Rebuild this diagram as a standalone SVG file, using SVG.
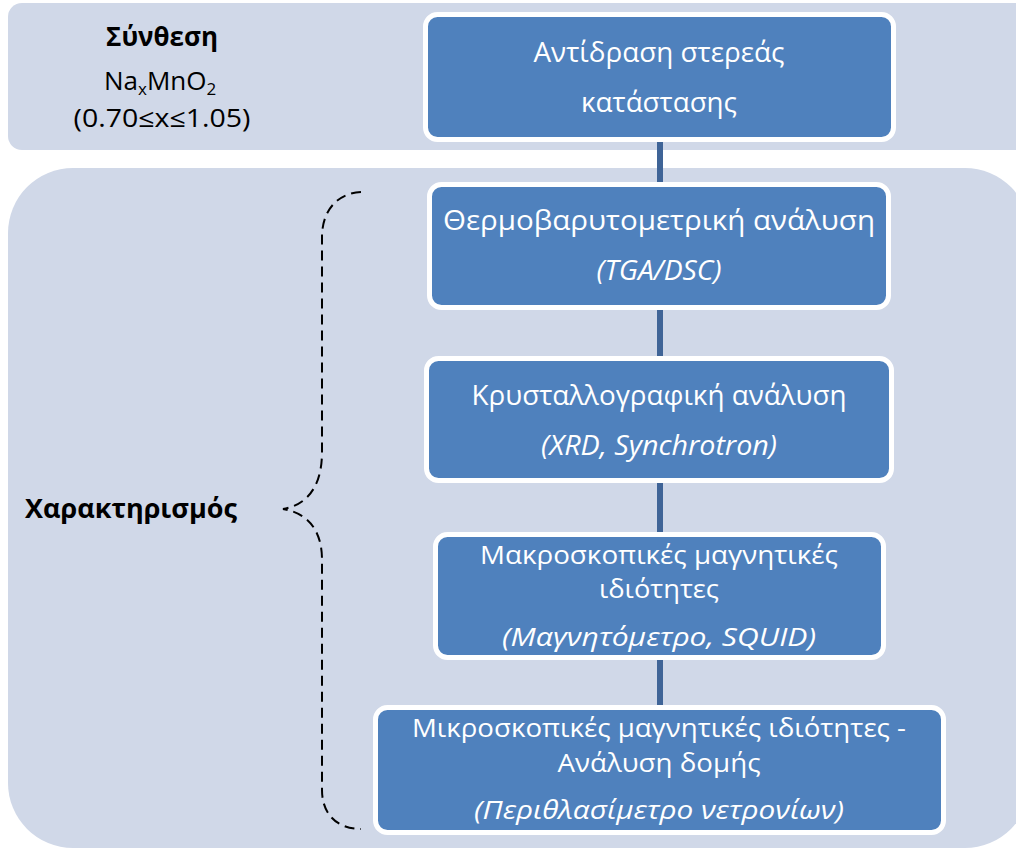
<svg xmlns="http://www.w3.org/2000/svg" width="1016" height="850" viewBox="0 0 1016 850">
  <style>
    .panel { fill: #D0D8E8; }
    .box { fill: #4F81BD; stroke: #FFFFFF; stroke-width: 5; }
    .link { stroke: #3F6497; stroke-width: 6; fill: none; }
    .brace { fill: none; stroke: #000000; stroke-width: 2; stroke-dasharray: 10 6; }
    .t { font-family: "Open Sans", "Noto Sans", "DejaVu Sans", sans-serif; fill: #FFFFFF; font-size: 28px; text-anchor: middle; }
    .s { font-size: 25px; }
    .it { font-style: italic; }
    .lbl { font-family: "Open Sans", "Noto Sans", "DejaVu Sans", sans-serif; fill: #000000; font-size: 27px; text-anchor: middle; }
    .b { font-weight: bold; }
  </style>

  <!-- background panels -->
  <g id="panel-synthesis">
    <rect class="panel" x="8" y="3" width="1022" height="147" rx="14"/>
  </g>
  <g id="panel-characterisation">
    <rect class="panel" x="8" y="168" width="1022" height="680" rx="65"/>
  </g>

  <!-- connectors between the process steps -->
  <g id="connectors">
    <line class="link" x1="660" y1="139" x2="660" y2="186"/>
    <line class="link" x1="660" y1="308" x2="660" y2="360"/>
    <line class="link" x1="660" y1="481" x2="660" y2="536"/>
    <line class="link" x1="660" y1="658" x2="660" y2="709"/>
    <path class="brace" d="M361,192 C338,193 322,210 322,237 L322,452 C322,480 312,504 283,509 C312,514 322,535 322,560 L322,790 C322,815 338,829 361,829"/>
  </g>

  <!-- left-hand labels -->
  <g id="label-synthesis">
    <text class="lbl b" x="162" y="46" textLength="112" lengthAdjust="spacingAndGlyphs">Σύνθεση</text>
    <text class="lbl" x="104" y="90" style="font-size:26px;text-anchor:start">Na<tspan font-size="17" dy="5">x</tspan><tspan dy="-5">MnO</tspan><tspan font-size="17" dy="5">2</tspan></text>
    <text class="lbl" x="162" y="127" style="font-size:25px" textLength="177" lengthAdjust="spacingAndGlyphs">(0.70≤x≤1.05)</text>
  </g>
  <g id="label-characterisation">
    <text class="lbl b" x="131" y="518" textLength="212" lengthAdjust="spacingAndGlyphs">Χαρακτηρισμός</text>
  </g>

  <!-- process steps -->
  <g id="step-solid-state">
    <rect class="box" x="425.5" y="14.5" width="468" height="125" rx="12"/>
    <text class="t" x="659" y="62" textLength="251" lengthAdjust="spacingAndGlyphs">Αντίδραση στερεάς</text>
    <text class="t" x="659" y="112" textLength="156" lengthAdjust="spacingAndGlyphs">κατάστασης</text>
  </g>
  <g id="step-tga">
    <rect class="box" x="429.5" y="184.5" width="459" height="123" rx="12"/>
    <text class="t" x="659" y="230" textLength="432" lengthAdjust="spacingAndGlyphs">Θερμοβαρυτομετρική ανάλυση</text>
    <text class="t it" x="659" y="280" textLength="125" lengthAdjust="spacingAndGlyphs">(TGA/DSC)</text>
  </g>
  <g id="step-xrd">
    <rect class="box" x="426.5" y="358.5" width="465" height="122" rx="12"/>
    <text class="t" x="659" y="405" textLength="375" lengthAdjust="spacingAndGlyphs">Κρυσταλλογραφική ανάλυση</text>
    <text class="t it" x="659" y="455" textLength="236" lengthAdjust="spacingAndGlyphs">(XRD, Synchrotron)</text>
  </g>
  <g id="step-squid">
    <rect class="box" x="435.5" y="534.5" width="448" height="123" rx="12"/>
    <text class="t s" x="659" y="564" textLength="358" lengthAdjust="spacingAndGlyphs">Μακροσκοπικές μαγνητικές</text>
    <text class="t s" x="659" y="598" textLength="120" lengthAdjust="spacingAndGlyphs">ιδιότητες</text>
    <text class="t s it" x="659" y="646" textLength="314" lengthAdjust="spacingAndGlyphs">(Μαγνητόμετρο, SQUID)</text>
  </g>
  <g id="step-neutron">
    <rect class="box" x="375.5" y="707.5" width="568" height="125" rx="12"/>
    <text class="t s" x="659" y="737" textLength="494" lengthAdjust="spacingAndGlyphs">Μικροσκοπικές μαγνητικές ιδιότητες -</text>
    <text class="t s" x="659" y="772" textLength="203" lengthAdjust="spacingAndGlyphs">Ανάλυση δομής</text>
    <text class="t s it" x="659" y="819" textLength="370" lengthAdjust="spacingAndGlyphs">(Περιθλασίμετρο νετρονίων)</text>
  </g>
</svg>
